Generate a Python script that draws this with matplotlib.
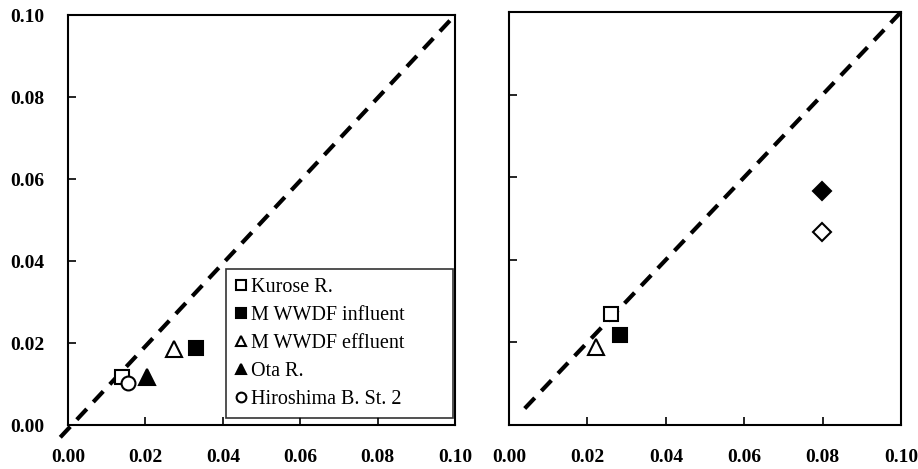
import matplotlib
matplotlib.use("Agg")
import matplotlib.pyplot as plt

plt.rcParams['font.family'] = ['Liberation Serif', 'DejaVu Serif']

# left panel data
left_labels = ["Kurose R.", "M WWDF influent", "M WWDF effluent", "Ota R.", "Hiroshima B. St. 2"]
left_x = [0.0140, 0.0331, 0.0274, 0.0204, 0.0155]
left_y = [0.0117, 0.0188, 0.0185, 0.0117, 0.0102]
left_markers = ["s", "s", "^", "^", "o"]
left_filled = [False, True, False, True, False]

# right panel data
right_x = [0.0260, 0.0283, 0.0222, 0.0798, 0.0798]
right_y = [0.0269, 0.0218, 0.0189, 0.0567, 0.0467]
right_markers = ["s", "s", "^", "D", "D"]
right_filled = [False, True, False, True, False]

ticks = [0.00, 0.02, 0.04, 0.06, 0.08, 0.10]
tick_labels = ["0.00", "0.02", "0.04", "0.06", "0.08", "0.10"]

fig = plt.figure(figsize=(9.18, 4.69), dpi=100)
ax1 = fig.add_axes([0.0741, 0.0938, 0.4216, 0.874])
ax2 = fig.add_axes([0.5545, 0.0938, 0.427, 0.8806])

msize = {"s": 10, "^": 11, "o": 10, "D": 9}

def style(ax, ylab):
    ax.set_xlim(0, 0.1)
    ax.set_ylim(0, 0.1)
    ax.set_xticks(ticks)
    ax.set_xticklabels(tick_labels, fontweight="bold")
    ax.set_yticks(ticks)
    if ylab:
        ax.set_yticklabels(tick_labels, fontweight="bold")
    else:
        ax.set_yticklabels([])
    for s in ax.spines.values():
        s.set_linewidth(1.5)
    ax.tick_params(direction="in", length=6, width=1.2, labelsize=14)
    ax.tick_params(axis="x", pad=17)
    ax.tick_params(axis="y", pad=17)

# 1:1 line
ax1.plot([-0.002, 0.1], [-0.003, 0.1], color="black", lw=3,
         linestyle=(0, (3.5, 2.3)), clip_on=False, zorder=1)
ax2.plot([0.004, 0.1], [0.004, 0.1], color="black", lw=3,
         linestyle=(0, (3.5, 2.3)), clip_on=False, zorder=1)

for x, y, m, f, lab in zip(left_x, left_y, left_markers, left_filled, left_labels):
    ax1.plot(x, y, marker=m, linestyle="none", markersize=msize[m],
             markerfacecolor="black" if f else "white", markeredgecolor="black",
             markeredgewidth=1.5, label=lab, zorder=3)

for x, y, m, f in zip(right_x, right_y, right_markers, right_filled):
    ax2.plot(x, y, marker=m, linestyle="none", markersize=msize[m],
             markerfacecolor="black" if f else "white", markeredgecolor="black",
             markeredgewidth=1.5, zorder=3)

style(ax1, True)
style(ax2, False)

handles, labels = ax1.get_legend_handles_labels()
leg = ax1.legend(handles, labels, loc="lower left",
                 bbox_to_anchor=(0.408, 0.017, 0.587, 0.356), mode="expand",
                 fontsize=14.5, frameon=True, fancybox=False, markerscale=0.7,
                 handlelength=0.55, handletextpad=0.25, labelspacing=0.44,
                 borderpad=0.45, borderaxespad=0)
leg.get_frame().set_edgecolor("black")
leg.get_frame().set_linewidth(1.2)

fig.savefig("out.png", dpi=100)
